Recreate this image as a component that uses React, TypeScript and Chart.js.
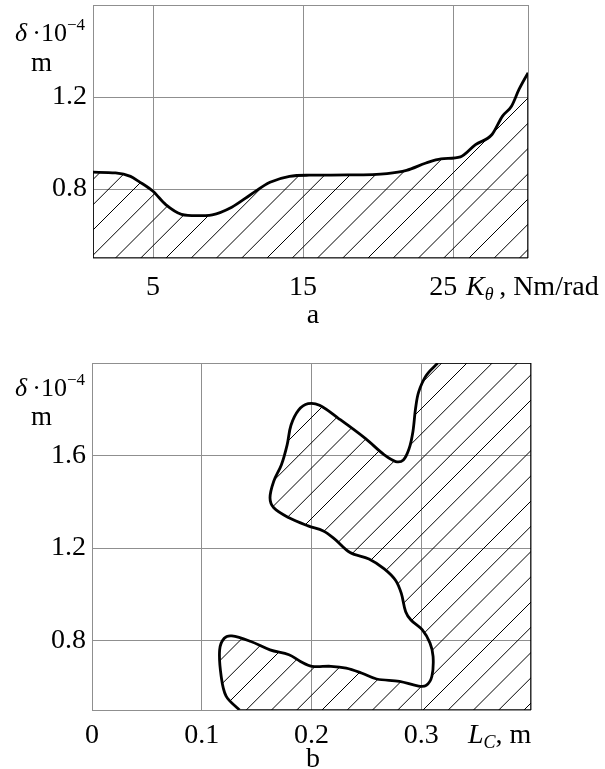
import React, { useEffect, useRef } from 'react';
import { Chart, registerables } from 'chart.js';

Chart.register(...registerables);

// ---------- chart a: delta vs K_theta ----------
const kTheta = [1, 2.5, 3.5, 4.05, 5, 5.85, 6.9, 7.9, 8.95, 10.25, 11.5, 12.8, 14.1, 15.4, 18, 20.6, 21.9, 23.2, 24.2, 25.5, 26.5, 27.6, 28.3, 28.9, 29.4, 30];
const deltaA = [0.873, 0.87, 0.855, 0.833, 0.79, 0.732, 0.69, 0.684, 0.688, 0.721, 0.775, 0.829, 0.855, 0.86, 0.861, 0.867, 0.881, 0.913, 0.931, 0.94, 0.993, 1.037, 1.117, 1.16, 1.233, 1.305];
const kThetaRange = [1, 30];
const deltaARange = [0.5, 1.6];
const kThetaTicks = [5, 15, 25];
const deltaATicks = [0.8, 1.2];

// ---------- chart b: delta vs L_C ----------
const lC = [0.315, 0.3045, 0.2976, 0.2948, 0.2924, 0.289, 0.2837, 0.2767, 0.2663, 0.249, 0.2247, 0.2073, 0.1969, 0.1882, 0.1813, 0.1778, 0.1726, 0.1656, 0.1622, 0.1656, 0.1795, 0.1969, 0.2108, 0.2212, 0.2351, 0.2524, 0.2663, 0.2767, 0.2819, 0.2858, 0.2906, 0.301, 0.308, 0.3108, 0.3097, 0.3045, 0.2976, 0.2802, 0.2594, 0.2455, 0.2316, 0.2177, 0.2003, 0.1899, 0.1795, 0.1622, 0.1448, 0.1274, 0.1205, 0.1163, 0.1177, 0.1222, 0.1344];
const deltaB = [2.0, 1.946, 1.874, 1.803, 1.703, 1.631, 1.581, 1.574, 1.603, 1.674, 1.76, 1.817, 1.824, 1.796, 1.731, 1.646, 1.56, 1.489, 1.417, 1.374, 1.331, 1.296, 1.274, 1.239, 1.181, 1.153, 1.11, 1.06, 1.003, 0.925, 0.889, 0.846, 0.789, 0.731, 0.646, 0.606, 0.603, 0.624, 0.634, 0.66, 0.681, 0.689, 0.689, 0.71, 0.739, 0.76, 0.796, 0.82, 0.81, 0.76, 0.646, 0.56, 0.5];
const lCRange = [0, 0.4];
const deltaBRange = [0.5, 2.0];
const lCTicks = [0, 0.1, 0.2, 0.3];
const deltaBTicks = [0.8, 1.2, 1.6];

const SERIF = "'Liberation Serif', 'Times New Roman', serif";
const GRID = '#8f8f8f';
const TICK_SIZE = 28;

function hatch(phase: number) {
  const P = 101;
  const step = P / 4;
  const c = document.createElement('canvas');
  c.width = P;
  c.height = P;
  const g = c.getContext('2d')!;
  g.strokeStyle = '#000';
  g.lineWidth = 1;
  for (let k = -4; k <= 12; k++) {
    const cc = phase + k * step;
    g.beginPath();
    g.moveTo(cc + P, -P);
    g.lineTo(cc - 2 * P, 2 * P);
    g.stroke();
  }
  return g.createPattern(c, 'repeat')!;
}

function axis(range: number[], ticks: number[], size: number, horizontal: boolean, padding: number, label: (v: number) => string) {
  return {
    type: 'linear',
    min: range[0],
    max: range[1],
    afterBuildTicks: (s: any) => {
      const vals = Array.from(new Set([range[0], ...ticks, range[1]]));
      s.ticks = vals.map((v) => ({ value: v }));
    },
    afterFit: (s: any) => {
      if (horizontal) {
        s.height = size;
        s.paddingLeft = 0;
        s.paddingRight = 0;
      } else {
        s.width = size;
        s.paddingTop = 0;
        s.paddingBottom = 0;
      }
    },
    grid: { color: GRID, lineWidth: 1, drawTicks: false },
    border: { display: false },
    ticks: {
      autoSkip: false,
      maxRotation: 0,
      minRotation: 0,
      padding,
      color: '#000',
      font: { family: SERIF, size: TICK_SIZE },
      callback: (v: any) => (ticks.includes(v) ? label(v) : ''),
    },
  };
}

const baseOptions = {
  responsive: false,
  maintainAspectRatio: false,
  animation: false,
  events: [],
  plugins: { legend: { display: false }, tooltip: { enabled: false }, title: { display: false } },
  elements: { point: { radius: 0 } },
};

function configA() {
  const curve = kTheta.map((x, i) => ({ x, y: deltaA[i] }));
  const last = kTheta.length - 1;
  const frame = [
    { x: kTheta[0], y: deltaA[0] },
    { x: kThetaRange[0], y: deltaARange[0] },
    { x: kThetaRange[1], y: deltaARange[0] },
    { x: kTheta[last], y: deltaA[last] },
  ];
  return {
    type: 'line',
    data: {
      datasets: [
        {
          data: curve,
          borderColor: '#000',
          borderWidth: 2.8,
          pointRadius: 0,
          cubicInterpolationMode: 'monotone',
          fill: 'start',
          backgroundColor: hatch(20),
          order: 0,
        },
        { data: frame, borderColor: '#000', borderWidth: 1.6, pointRadius: 0, tension: 0, fill: false, order: 1 },
      ],
    },
    options: {
      ...baseOptions,
      layout: { padding: { left: 0, top: 5, right: 77, bottom: 0 } },
      scales: {
        x: axis(kThetaRange, kThetaTicks, 62, true, 13, (v) => (v === 25 ? '25\u2002\u2009' : String(v))),
        y: axis(deltaARange, deltaATicks, 93, false, 6, (v) => String(v)),
      },
    },
  };
}

function configB() {
  const curve = lC.map((x, i) => ({ x, y: deltaB[i] }));
  const last = lC.length - 1;
  const frame = [
    { x: lC[0], y: deltaB[0] },
    { x: lCRange[1], y: deltaBRange[1] },
    { x: lCRange[1], y: deltaBRange[0] },
    { x: lC[last], y: deltaB[last] },
  ];
  const region = [...curve, { x: lCRange[1], y: deltaBRange[0] }, { x: lCRange[1], y: deltaBRange[1] }];
  return {
    type: 'line',
    data: {
      datasets: [
        { data: curve, borderColor: '#000', borderWidth: 2.8, pointRadius: 0, tension: 0.35, fill: false, order: 0 },
        { data: frame, borderColor: '#000', borderWidth: 1.6, pointRadius: 0, tension: 0, fill: false, order: 1 },
        {
          data: region,
          borderColor: 'transparent',
          borderWidth: 0,
          pointRadius: 0,
          tension: 0.35,
          fill: 'shape',
          backgroundColor: hatch(5),
          order: 2,
        },
      ],
    },
    options: {
      ...baseOptions,
      layout: { padding: { left: 0, top: 43, right: 74, bottom: 0 } },
      scales: {
        x: axis(lCRange, lCTicks, 59, true, 9, (v) => String(v)),
        y: axis(deltaBRange, deltaBTicks, 92, false, 6, (v) => String(v)),
      },
    },
  };
}

function ChartCanvas({ make, top, width, height }: { make: () => any; top: number; width: number; height: number }) {
  const ref = useRef<HTMLCanvasElement | null>(null);
  useEffect(() => {
    const chart = new Chart(ref.current as HTMLCanvasElement, make());
    return () => chart.destroy();
  }, []);
  return (
    <canvas
      ref={ref}
      width={width}
      height={height}
      style={{ position: 'absolute', left: 0, top, width, height, display: 'block' }}
    />
  );
}

const txt = (s: React.CSSProperties): React.CSSProperties => ({
  position: 'absolute',
  fontFamily: SERIF,
  lineHeight: 1,
  whiteSpace: 'nowrap',
  color: '#000',
  ...s,
});

function YTitle({ top, mTop }: { top: number; mTop: number }) {
  return (
    <>
      <div style={txt({ left: 15, top, fontSize: 26 })}>
        <i>δ</i>
        {'\u2009·10'}
        <span style={{ fontSize: 17, position: 'relative', top: -11 }}>−4</span>
      </div>
      <div style={txt({ left: 31, top: mTop, fontSize: 27 })}>m</div>
    </>
  );
}

export default function App() {
  return (
    <div style={{ position: 'absolute', left: 0, top: 0, width: 605, height: 769, background: '#fff', overflow: 'hidden' }}>
      <ChartCanvas make={configA} top={0} width={605} height={320} />
      <ChartCanvas make={configB} top={320} width={605} height={449} />

      <YTitle top={20} mTop={49} />
      <div style={txt({ left: 466, top: 272, fontSize: TICK_SIZE })}>
        <i>K</i>
        <span style={{ fontSize: 18, fontStyle: 'italic', position: 'relative', top: 5 }}>θ</span>
        {'\u2009, Nm/rad'}
      </div>
      <div style={txt({ left: 293, width: 40, textAlign: 'center', top: 300, fontSize: TICK_SIZE })}>a</div>

      <YTitle top={375} mTop={403} />
      <div style={txt({ left: 468, top: 720, fontSize: TICK_SIZE })}>
        <i>L</i>
        <span style={{ fontSize: 18, fontStyle: 'italic', position: 'relative', top: 5 }}>C</span>
        {', m'}
      </div>
      <div style={txt({ left: 293, width: 40, textAlign: 'center', top: 744, fontSize: TICK_SIZE })}>b</div>
    </div>
  );
}
